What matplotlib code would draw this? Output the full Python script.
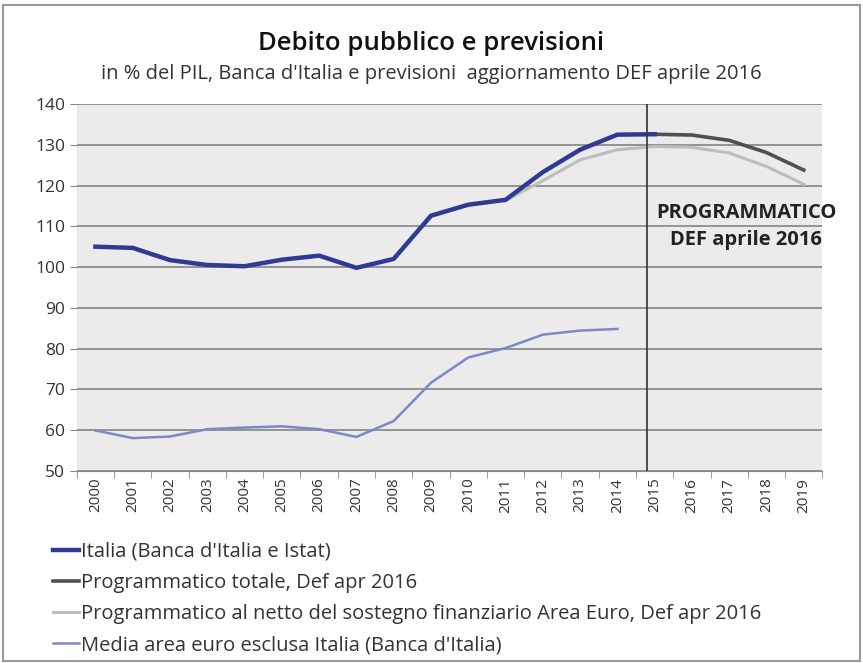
import numpy as np
import matplotlib.pyplot as plt
from matplotlib.patches import Rectangle

years = [str(y) for y in range(2000, 2020)]

# Italia (Banca d'Italia e Istat), 2000-2015
italia = [105.0, 104.7, 101.7, 100.5, 100.2, 101.8, 102.8, 99.8, 102.0, 112.6,
          115.3, 116.5, 123.3, 128.8, 132.5, 132.6]
# Programmatico totale, 2015-2019
prog_tot = [132.6, 132.4, 131.1, 128.1, 123.8]
# Programmatico al netto del sostegno, 2011-2019
prog_netto = [116.3, 121.2, 126.3, 128.8, 129.6, 129.4, 128.0, 124.7, 120.3]
# Media area euro esclusa Italia, 2000-2014
euro = [59.9, 58.0, 58.4, 60.2, 60.6, 60.9, 60.2, 58.3, 62.2, 71.6,
        77.8, 80.1, 83.4, 84.4, 84.8]

labels = ["Italia (Banca d'Italia e Istat)",
          "Programmatico totale, Def apr 2016",
          "Programmatico al netto del sostegno finanziario Area Euro, Def apr 2016",
          "Media area euro esclusa Italia (Banca d'Italia)"]

plt.rcParams['font.family'] = ['Open Sans', 'DejaVu Sans']

fig = plt.figure(figsize=(8.63, 6.63), dpi=100)
fig.patches.append(Rectangle((0.004, 0.003), 0.992, 0.99, transform=fig.transFigure,
                             fill=False, edgecolor='#9a9a9a', linewidth=1.5))
ax = fig.add_axes([0.089, 0.29, 0.864, 0.553])
ax.set_facecolor('#ebebeb')

x = np.arange(len(years))
l_netto, = ax.plot(x[11:], prog_netto, color='#bdbdbd', lw=2.2, zorder=3)
l_tot, = ax.plot(x[15:], prog_tot, color='#505050', lw=2.6, zorder=4)
l_it, = ax.plot(x[:16], italia, color='#2e3a94', lw=3.2, zorder=5)
l_eu, = ax.plot(x[:15], euro, color='#7c88c8', lw=1.8, zorder=3)

ax.axvline(14.8, color='#333333', lw=1.2, zorder=6)

ax.set_xlim(-0.5, 19.5)
ax.set_ylim(50, 140)
ax.set_yticks(np.arange(50, 141, 10))
ax.set_xticks(x)
ax.set_xticklabels(years, rotation=90, fontsize=11, color='#333333')
ax.set_xticks(np.arange(-0.5, 20, 1), minor=True)
ax.tick_params(axis='x', which='major', length=0, pad=5)
ax.tick_params(axis='x', which='minor', length=5, color='#888888')
ax.tick_params(axis='y', length=5, color='#888888', labelsize=12.5, labelcolor='#333333')
ax.grid(axis='y', color='#8c8c8c', lw=1.3)
ax.set_axisbelow(True)
for s in ['top', 'right', 'left']:
    ax.spines[s].set_visible(False)
ax.spines['bottom'].set_color('#888888')

ax.text(17.45, 109.9, 'PROGRAMMATICO\nDEF aprile 2016', ha='center', va='center',
        fontsize=14.5, fontweight='bold', color='#222222', linespacing=1.45, zorder=7)

fig.text(0.5, 0.935, 'Debito pubblico e previsioni', ha='center', va='center',
         fontsize=18.5, fontweight='semibold', color='#111111')
fig.text(0.5, 0.888, "in % del PIL, Banca d'Italia e previsioni  aggiornamento DEF aprile 2016",
         ha='center', va='center', fontsize=14.5, color='#333333')

fig.legend([l_it, l_tot, l_netto, l_eu], labels, loc='upper left',
           bbox_to_anchor=(0.045, 0.204), frameon=False, fontsize=14.5,
           handlelength=1.3, handletextpad=0.1, labelspacing=0.55,
           borderpad=0.2, labelcolor='#333333')

fig.savefig('out.png', dpi=100)
